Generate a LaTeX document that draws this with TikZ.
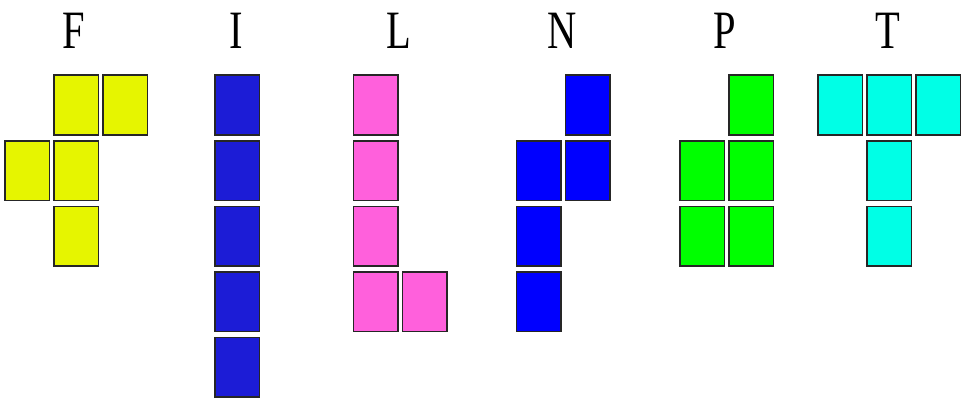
\documentclass[tikz,border=0pt]{standalone}
\usepackage{fontspec}
\setmainfont{Liberation Serif}
\definecolor{fyellow}{RGB}{230,245,0}
\definecolor{iblue}{RGB}{28,28,214}
\definecolor{lpink}{RGB}{255,96,220}
\definecolor{nblue}{RGB}{0,0,255}
\definecolor{pgreen}{RGB}{0,255,0}
\definecolor{tcyan}{RGB}{0,255,230}
\tikzset{
	cell/.style={draw=black!85,line width=1.6pt,inner sep=0pt,anchor=north west,
		minimum width=44.5pt,minimum height=59.5pt},
	piecename/.style={anchor=base,inner sep=0pt,font=\fontsize{54}{54}\selectfont}
}
\begin{document}
\begin{tikzpicture}[x=1pt,y=-1pt]
	\useasboundingbox[fill=white] (0,0) rectangle (963,398);
	% names of the pieces
	\node[piecename] (nF) at (74,49) {\scalebox{0.75}[1]{F}};
	\node[piecename] (nI) at (236.5,49) {\scalebox{0.75}[1]{I}};
	\node[piecename] (nL) at (399,49) {\scalebox{0.75}[1]{L}};
	\node[piecename] (nN) at (562,49) {\scalebox{0.75}[1]{N}};
	\node[piecename] (nP) at (725,49) {\scalebox{0.75}[1]{P}};
	\node[piecename] (nT) at (888,49) {\scalebox{0.75}[1]{T}};
	% cells, column/row in steps of 49 and 65.5
	\foreach \c/\r [count=\k] in {1/0,2/0,0/1,1/1,1/2}
		\node[cell,fill=fyellow] (F\k) at (4+49*\c,74.5+65.5*\r) {};
	\foreach \c/\r [count=\k] in {0/0,0/1,0/2,0/3,0/4}
		\node[cell,fill=iblue] (I\k) at (214.2+49*\c,74.5+65.5*\r) {};
	\foreach \c/\r [count=\k] in {0/0,0/1,0/2,0/3,1/3}
		\node[cell,fill=lpink] (L\k) at (352.8+49*\c,74.5+65.5*\r) {};
	\foreach \c/\r [count=\k] in {1/0,0/1,1/1,0/2,0/3}
		\node[cell,fill=nblue] (N\k) at (515.8+49*\c,74.5+65.5*\r) {};
	\foreach \c/\r [count=\k] in {1/0,0/1,1/1,0/2,1/2}
		\node[cell,fill=pgreen] (P\k) at (679.2+49*\c,74.5+65.5*\r) {};
	\foreach \c/\r [count=\k] in {0/0,1/0,2/0,1/1,1/2}
		\node[cell,fill=tcyan] (T\k) at (817.2+49*\c,74.5+65.5*\r) {};
\end{tikzpicture}
\end{document}
